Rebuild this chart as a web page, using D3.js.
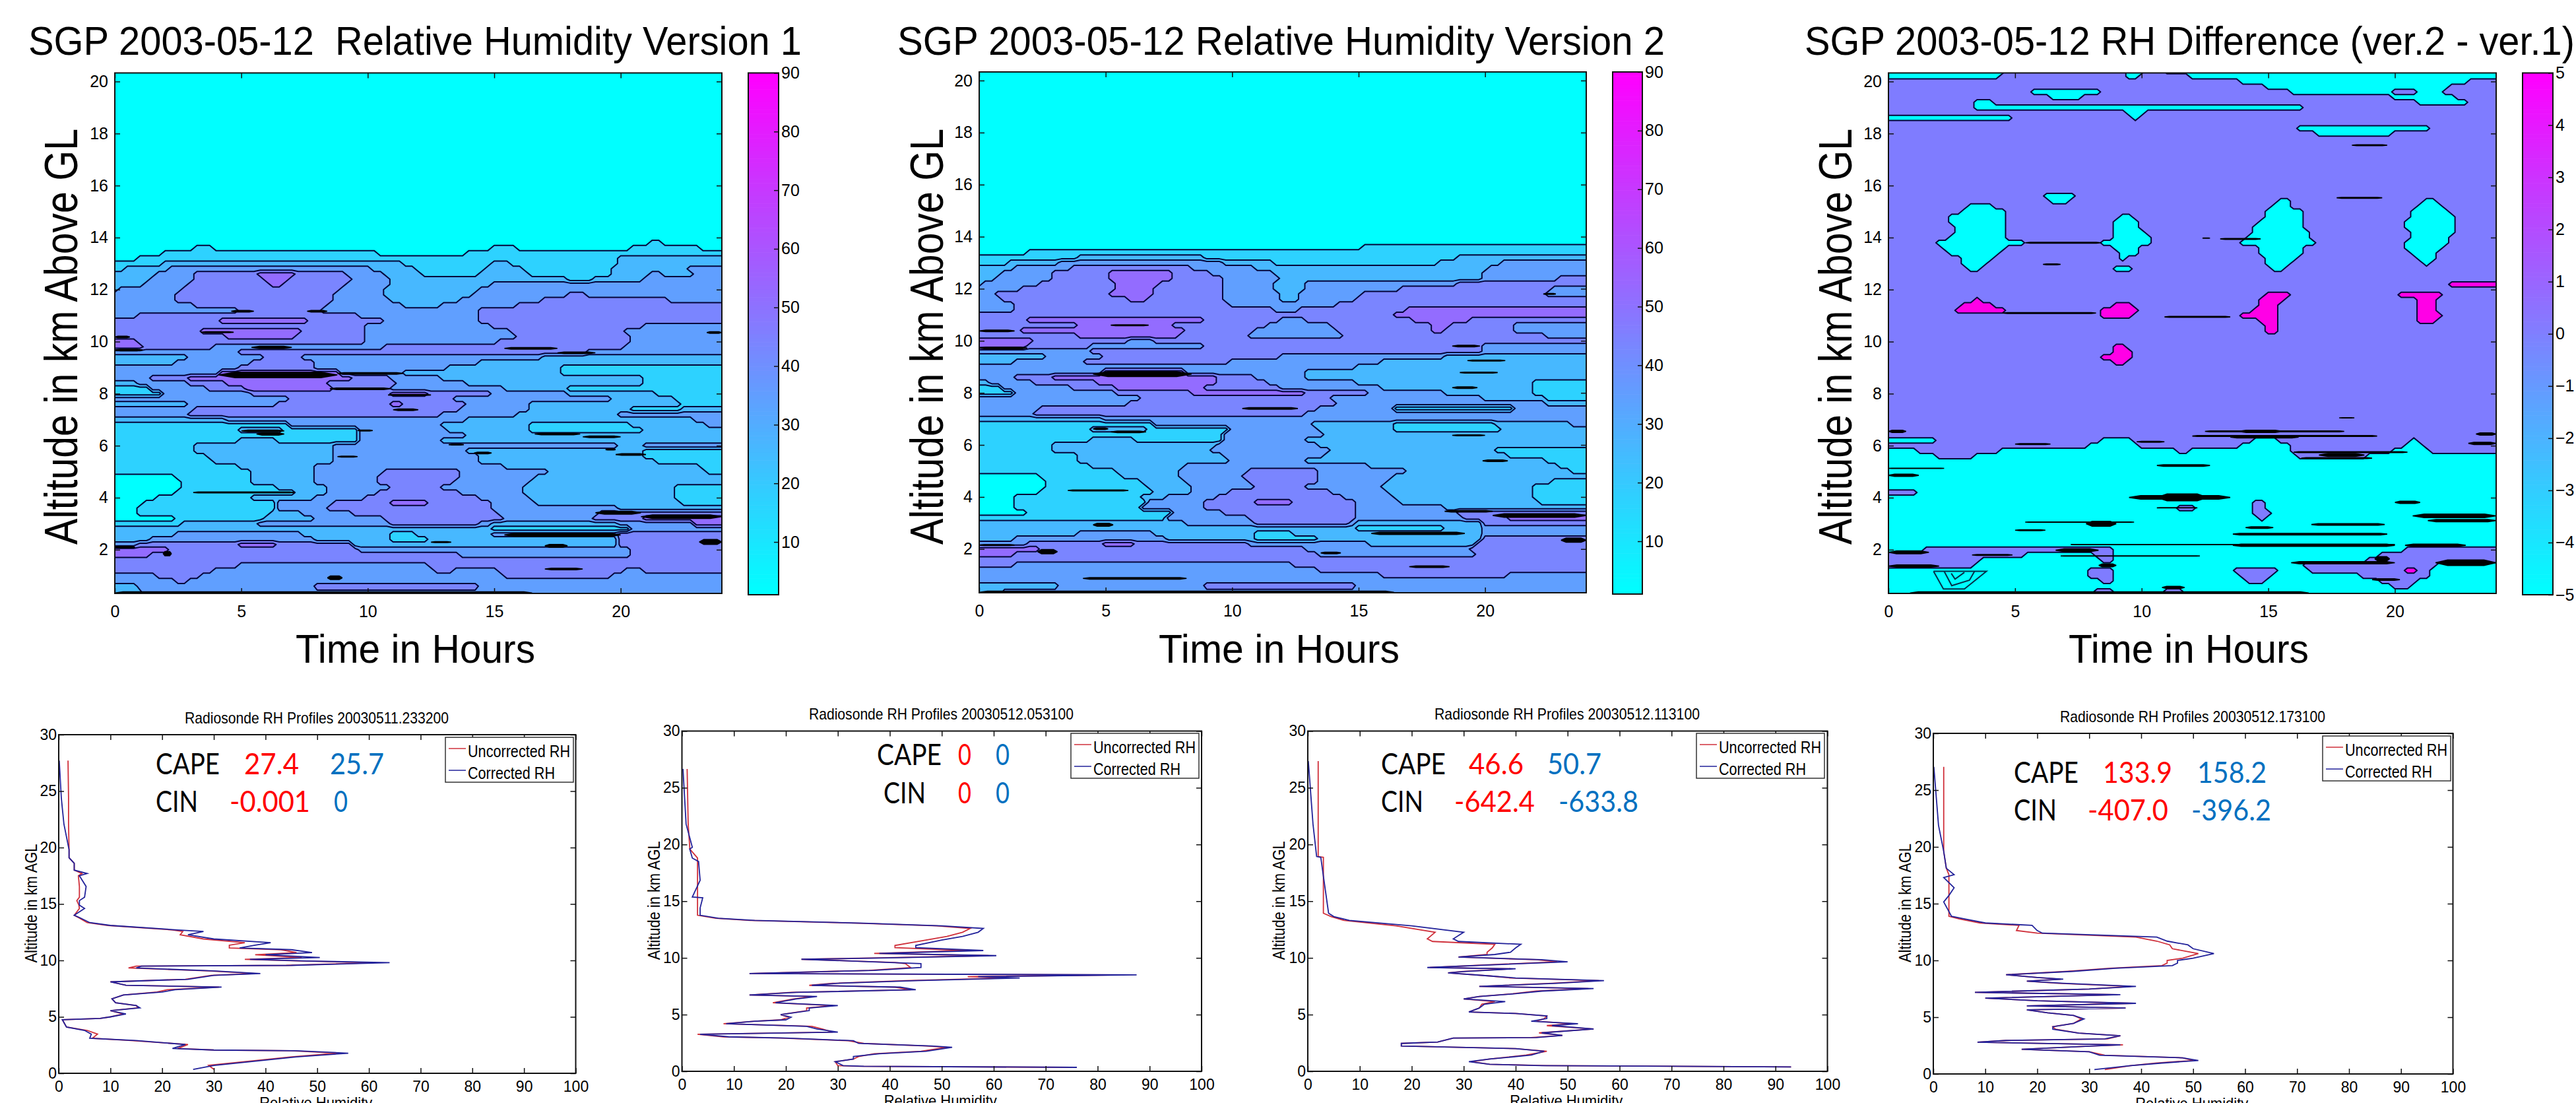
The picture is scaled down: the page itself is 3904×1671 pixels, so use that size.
<!DOCTYPE html>
<html>
<head>
<meta charset="utf-8">
<script src="https://cdn.jsdelivr.net/npm/d3@7"></script>
<style>
  html, body { margin: 0; padding: 0; background: #fff; overflow: hidden; }
  text { font-family: "Liberation Sans", Arial, sans-serif; fill: #000; white-space: pre; }
</style>
</head>
<body>
<div id="chart"></div>
<script>
// Time / altitude ticks of the contour panels
const hourTicks = [0, 5, 10, 15, 20];
const kmTicks = [2, 4, 6, 8, 10, 12, 14, 16, 18, 20];
const rhBarTicks = [10, 20, 30, 40, 50, 60, 70, 80, 90];
const diffBarTicks = [-5, -4, -3, -2, -1, 0, 1, 2, 3, 4, 5];

// Each row: km, then band, until-hour, band, until-hour, ..., last band.
// Bands are the 10 % RH contour intervals.
const rhV1Rows = [
  [20.4,0],[14,0],
  [13.8,0,21.2,1,21.7,0],
  [13.6,0,3.1,1,3.8,0,14.8,1,15.9,0,20.3,1,23.2,0],
  [13.4,0,2,1,10.5,0,13.9,1],
  [13.2,0,1,1,20,2],
  [13,1,2,2,11.3,1,15,2,15.7,1,19.8,2],
  [12.8,1,0.5,2,2.2,3,10.2,2,12,1,14.6,2,16.1,1,19.6,2,22.7,3],
  [12.6,2,1.7,3,3.2,4,5.6,5,7.1,4,9.2,3,10.6,2,12.2,1,14.5,2,16.4,1,19.6,2,21.25,3,21.65,2,22.9,3],
  [12.4,2,1.3,3,3.1,4,5.8,5,6.9,4,9.4,3,10.9,2,18,1,19,2,21,3],
  [12.2,2,1.1,3,3,4,6.1,5,6.6,4,9.1,3,10.8,2,14.8,3],
  [12,2,0.2,3,2.6,4,8.9,3,10.7,2,14.4,3],
  [11.8,3,2.4,4,8.7,3,10.7,2,14.1,3,18,4,18.7,3],
  [11.6,3,2.5,4,8.6,3,11,2,13.7,3,16.8,4,22,3],
  [11.4,3,3.2,4,8.5,3,11.5,2,12.9,3,15.9,4],
  [11.2,3,4.8,4,8.2,3,14.4,4],
  [11,3,1,4,9.6,3,14.4,4],
  [10.8,4,4.1,5,7.7,4,10.6,3,14.4,4],
  [10.6,4,10,3,14.8,4,21,3],
  [10.4,4,3.4,5,7.3,4,9.9,3,15.6,4,20.1,3],
  [10.2,4,4.3,5,7.2,4,9.8,3,16,4,20.5,3],
  [10,5,1,4,9.8,3,15.2,4,20.4,3],
  [9.8,5,1.1,4,3.8,3,10.7,4,20.2,3],
  [9.6,3,5,4,18.6,3],
  [9.4,2,2.9,3,6,4,7.5,3,16.8,2],
  [9.2,2,2.5,3,5.3,4,7.8,3,14.5,2],
  [9,3,5,4,7.9,3,13.2,2,17.6,1],
  [8.8,3,4.1,5,8.9,3,11.5,2,17.6,1],
  [8.6,3,1.5,4,3,5,9.5,4,10.9,3,12.9,2,21,1],
  [8.4,2,1,3,3,4,4.5,5,8.5,4,11.2,3,14,2,21,1],
  [8.2,1,1.4,3,3.6,4,5.2,5,8.6,4,10.8,3,15.4,2,18,1],
  [8,1,1.8,3,5.5,4,11,5,12.5,4,14.8,3,17.8,2,21.5,1],
  [7.8,3,7,4,13.5,3,19.7,2,22.2,1],
  [7.6,2,3,3,6.5,4,11,5,11.4,4,13.8,3,16.3,2,22.4,1],
  [7.4,3,3.1,4,13.6,3,16.5,2,20.5,1,22.4,2],
  [7.2,3,2.8,4,13,3,16,2,20,3],
  [7,2,4.5,3,14,2,23,3],
  [6.8,1,7,3,13,2,16.5,1,20.5,2,23.5,3],
  [6.6,1,5,2,6.7,1,9.6,3,13.2,2,16.5,1,21,2],
  [6.4,1,9.7,3,14,2],
  [6.2,1,4.8,2,6.3,1,9.6,3,13,2],
  [6,1,3.2,2,8.6,3,20,2,21,3],
  [5.8,1,3.1,2,8.7,3,14,2,21,1],
  [5.6,1,3.7,2,8.7,3,14.3,2,21,1],
  [5.4,1,3.8,2,8.7,3,14.3,2,21.3,1],
  [5.2,1,5,2,8,3,15.5,2,23.2,1],
  [5,1,5.5,2,8,3,10.6,4,13.6,3,17.2,2,23.5,1],
  [4.8,0,2.4,1,5.5,2,7.9,3,10.4,4,13.6,3,16.6,2],
  [4.6,0,2.6,1,5.5,2,7.9,3,10.4,4,13.4,3,16.3,2],
  [4.4,0,2.7,1,6.5,2,8.4,3,10.9,4,13,3,16.2,2,22.2,1],
  [4.2,0,2.5,1,7.1,2,8.4,3,10.5,4,13.6,3,16.2,2,22.2,1],
  [4,0,1.6,1,5.5,2,7.8,3,9.8,4,14.3,3,16.4,2,22.2,1],
  [3.8,0,1.1,1,6.4,3,8.6,4,11,5,12.5,4,15,3,16.7,2,22.3,1],
  [3.6,0,0.9,1,6.3,3,8.5,4,15,3,20,2],
  [3.4,0,0.8,1,6.2,2,7.5,3,9.3,4,15.2,3,19.2,4],
  [3.2,0,2.5,1,6,2,7.8,3,10.6,4,15.4,3,19,4,21,5],
  [3,1,2.6,2,5.7,3,11,4,14.5,3,15,2,20,3,23,5],
  [2.8,2,15,1,20.4,3],
  [2.6,2,2.3,3,7.3,2,11,1,12,2,15,3,20,4],
  [2.4,2,1.5,3,8,2,11,1,12.3,2,20,4],
  [2.2,3,1,4,4.8,5,6.3,4,9.5,2,20,4],
  [2,5,2.1,4,9.6,3,20.5,4],
  [1.8,5,1.4,4,13.7,3,20.5,4],
  [1.6,4],
  [1.4,4,5,3,12.3,4],
  [1.2,4,4,3,12.6,4,13.4,3,15.2,4,20.2,3,20.9,4],
  [1,3,1.7,4,3.4,3,15.5,4,19.7,3],
  [0.8,3,2.3,4,2.8,3],
  [0.6,2,1,3,8,4,14.5,3],
  [0.3,2,1.2,3]
];

const rhV2Rows = [
  [20.4,0],[13.8,0],
  [13.6,0,15.2,1],
  [13.4,0,2,1],
  [13.2,1,4,2,8.8,1,18.9,2],
  [13,1,1.1,2,3.1,3,9.6,2,11.6,1,18.2,2,20.6,3],
  [12.8,2,1.3,3,3.6,4,8.4,3,10.8,2,20.2,3],
  [12.6,2,0.8,3,2.9,4,5.2,5,7.6,4,9.2,3,11.6,2,20,3],
  [12.4,2,0.6,3,2.8,4,5.2,5,7.7,4,9.7,3,11.9,2,20,3,23,4],
  [12.2,2,0.1,3,2.5,4,5.3,5,7.2,4,9.7,3,11.6,2,12.9,3,18.8,4],
  [12,3,1.6,4,5.4,5,7,4,9.6,3,11.6,2,12.8,3,16.6,4,22.6,3],
  [11.8,3,0.7,4,5.2,5,7,4,9.6,3,11.8,2,12.6,3,15.2,4,22.4,3],
  [11.6,3,0.8,4,5.8,5,6.6,4,9.6,3,11.9,2,12.6,3,14.8,4],
  [11.4,3,1.3,4,10,3,14.1,4],
  [11.2,3,1.4,4,11.7,3,12.7,4,17,5],
  [11,4,16.3,5],
  [10.8,4,2,5,9,4,11.8,3,13,4,17.1,5,19.3,4],
  [10.6,4,3.8,5,7.7,4,11.3,3,13.8,4,17.8,5,18.7,4,21.2,3],
  [10.4,4,1.6,5,8.2,4,10.8,3,14.2,4,18,5,18.5,4,21.2,3],
  [10.2,4,3.9,5,8,4,10.7,3,14.5,4,22.3,3],
  [10,5,2.1,4,5.8,3,6.9,4],
  [9.8,5,1.8,4,4.3,3,8.8,4,20,3],
  [9.6,3,4.3,4,20,3],
  [9.4,2,2.6,3,5,4,11.9,3,18.3,2],
  [9.2,2,1.3,3,4.2,4,10,3,15.8,2],
  [9,3,15,2],
  [8.8,3,5,5,8.1,3,13,2],
  [8.6,3,1.5,4,3,5,9.5,4,10.9,3,12.9,2],
  [8.4,2,0.5,3,2.2,4,4.6,5,9.4,4,11.5,3,15,2,22,1],
  [8.2,1,0.8,3,3.6,4,5.5,5,8.9,4,12,3,16,2,22,1],
  [8,1,1.4,3,5.5,4,8.5,5,13,4,15.5,3,18.4,2,22,1],
  [7.8,3,6.4,4,13.8,3,19.8,2,22.5,1],
  [7.6,3,6,4,14.2,3,22.5,2],
  [7.4,3,2.4,4,13.3,3,16.4,1,21.2,3],
  [7.2,3,2.2,4,13,3],
  [7,2,5,3],
  [6.8,1,7,3,13.2,2,16.5,1,20.4,2,23.5,3],
  [6.6,1,4.3,2,6.7,1,9.9,3,13.5,2,16.5,1,20.7,2],
  [6.4,1,9.7,3,13.6,2],
  [6.2,1,4.5,2,6.2,1,9.6,3,13,2],
  [6,1,3,2,9.3,3,13.4,2],
  [5.8,1,2.8,2,9.2,3,14,2,20.5,1],
  [5.6,1,4,2,9.6,3,13.6,2,21,1],
  [5.4,1,3.9,2,10,3,13,2,22.5,1],
  [5.2,1,4.5,2,8.2,3,15.5,2,23,1],
  [5,1,5.5,2,8,3,10.6,4,13.4,3,16.8,2,23.5,1],
  [4.8,0,2.5,1,5.7,2,8,3,10.5,4,13.4,3,16.3,2],
  [4.6,0,2.7,1,6.5,2,8.1,3,10.6,4,13.3,3,16.2,2,22.6,1],
  [4.4,0,2.7,1,6.6,2,8.5,3,11,4,12.8,3,16,2,21.8,1],
  [4.2,0,2.5,1,7,2,8.3,3,10,4,14,3,16.1,2,22,1],
  [4,0,1.5,1,6.5,2,7.3,3,9.5,4,14.3,3,16.3,2,22,1],
  [3.8,0,1.3,1,6.6,3,8.9,4,10.9,5,12.4,4,15,3,16.6,2,22.2,1],
  [3.6,0,1.3,1,6.4,3,8.8,4,15,3,18.5,2],
  [3.4,0,2,1,7.6,3,9.7,4,15,3,18.8,4],
  [3.2,1,7.5,3,10.7,4,15,3,19.2,4,21,5],
  [3,2,8.2,3,11,4,14.6,3,15,2,20,4],
  [2.8,2,15,1,18.5,2,20,3],
  [2.6,2,3.9,3,6.8,2,10.8,1,12.5,2,20,3],
  [2.4,2,1.5,3,7.3,2,10.8,1,13.4,2,20,4],
  [2.2,3,2,4,4.8,5,6.2,4,10.6,3,15.5,2,19.7,4],
  [2,5,2.3,4,13,3,19.5,4],
  [1.8,5,1.3,4,13.5,3,19.7,4],
  [1.6,4],
  [1.4,4,1.3,3,12.4,4],
  [1.2,3,13.4,4],
  [1,3,16,4,21,3],
  [0.8,3],
  [0.6,2,3.2,3,9,4,15,3],
  [0.3,2,1,3]
];

const rhDiffRows = [
  [20.4,0,4.6,1,9.4,0,10.2,1,10.8,0],
  [20.2,0,4.4,1,9.5,0,10,1,12,0],
  [20,1,14,0,23,1],
  [19.8,1,14.8,0,22.1,1],
  [19.6,1,5.7,0,8.3,1,15.9,0,20,1,21,0,22,1],
  [19.4,1,6.3,0,7.7,1,20,0,22.4,1],
  [19.2,1,3.5,0,4.2,1,21,0,23,1],
  [19,1,3.4,0,16.5,1],
  [18.8,1,9.5,0,10.2,1],
  [18.6,0,4.8,1,9.6,0,10,1],
  [18.4,1],
  [18.2,1,16.1,0,21.5,1],
  [18,1,17,0,20,1],
  [17.8,1],[15.8,1],
  [15.6,1,6.1,0,7.3,1],
  [15.4,1,6.3,0,7.1,1,15.4,0,15.8,1,21.1,0,21.7,1],
  [15.2,1,3.2,0,4.2,1,15.1,0,16,1,20.8,0,22,1],
  [15,1,2.8,0,4.6,1,15,0,16.3,1,20.7,0,22.1,1],
  [14.8,1,2.5,0,4.7,1,9.2,0,9.7,1,14.9,0,16.4,1,20.6,0,22.3,1],
  [14.6,1,2.3,0,4.7,1,9,0,9.9,1,14.7,0,16.5,1,20.4,0,22.4,1],
  [14.4,1,2.6,0,4.6,1,9,0,9.9,1,14.5,0,16.5,1,20.4,0,22.4,1],
  [14.2,1,2.6,0,4.6,1,9,0,10.1,1,14.5,0,16.6,1,20.6,0,22.3,1],
  [14,1,2.3,0,4.7,1,8.8,0,10.4,1,14.1,0,16.7,1,20.7,0,22.2,1],
  [13.8,1,2,0,5.5,1,8.5,0,10.4,1,14,0,16.8,1,20.4,0,22.1,1],
  [13.6,1,2.2,0,4.7,1,9,0,10,1,14.6,0,16.5,1,20.5,0,22,1],
  [13.4,1,2.5,0,4.4,1,9.1,0,9.8,1,14.7,0,16.3,1,20.7,0,21.7,1],
  [13.2,1,2.8,0,4.1,1,9.2,0,9.5,1,14.8,0,16.1,1,21,0,21.6,1],
  [13,1,3,0,3.9,1,15,0,15.9,1,21.2,0,21.5,1],
  [12.8,1,3.1,0,3.7,1,9,0,9.6,1,15.2,0,15.7,1],
  [12.6,1],[12.4,1],
  [12.2,1,22.2,2],
  [12,1],
  [11.8,1,14.8,2,15.9,1,20.1,2,22,1],
  [11.6,1,3.4,2,3.7,1,14.7,2,15.6,1,20.9,2,21.6,1],
  [11.4,1,2.9,2,4.1,1,8.8,2,9.6,1,14.7,2,15.5,1,21,2,21.6,1],
  [11.2,1,2.7,2,4.6,1,8.3,2,9.8,1,14.3,2,15.5,1,21,2,21.7,1],
  [11,1,8.5,2,9.7,1,14,2,15.5,1,20.9,2,21.8,1],
  [10.8,1,14.6,2,15.4,1,20.9,2,21.7,1],
  [10.6,1,14.9,2,15.3,1],
  [10.4,1,15,2,15.3,1],
  [10.2,1],[10,1],
  [9.8,1,8.9,2,9.5,1],
  [9.6,1,8.8,2,9.6,1],
  [9.4,1,8.5,2,9.7,1],
  [9.2,1,8.9,2,9.4,1],
  [9,1],[6.4,1],
  [6.2,0,1.8,1,8.3,0,9.6,1,14.5,0,15.3,1,20.6,0,21,1],
  [6,1,8,0,9.9,1,13.8,0,15.9,1,20.4,0,21.2,1],
  [5.8,0,1.2,1,4.5,0,11.4,1,11.9,0,16,1,20,0,21.4,1],
  [5.6,0,1.8,1,3.3,0,16.2,1,19,0],
  [5.4,0],[4.4,0],
  [4.2,1,1.1,0],
  [4,0],
  [3.8,0,14.5,1,15,0],
  [3.6,0,11.3,1,12.1,0,14.3,1,15,0],
  [3.4,0,14.3,1,15.1,0],
  [3.2,0,14.6,1,14.9,0],
  [3,0],[2.2,0],
  [2,0,1.5,1,8.9,0,20.3,1],
  [1.8,1,5.5,0,8.2,1,8.9,0,19.3,1],
  [1.6,1,3.6,0,8.3,1,8.9,0,18.8,1],
  [1.4,1,3.3,0,16.5,1,21.7,0],
  [1.2,0,7.8,1,8.9,0,13.7,1,15.3,0,16.6,1,20.3,2,20.8,1,21.5,0],
  [1,0,7.8,1,9,0,13.8,1,15.1,0,18.7,1,21.3,0],
  [0.8,0,8.4,1,9,0,14.2,1,14.8,0,19.3,1,21,0],
  [0.6,0,20,1,20.7,0],
  [0.4,0,8.1,1,8.9,0,11,1,11.7,0],
  [0.3,0]
];

// Tightly packed contours, which read as black bars: from hour, to hour, km, weight
const rhV1Bars = [
  [4.1,8.8,8.72,10],[8.8,11.4,8.78,4],[8.5,10.9,8.19,4],[5.4,7,9.78,5],[10.8,12.5,7.95,3],[11,12,7.38,4],
  [0,0.6,10.18,4],[0,1.1,9.68,4],[3.4,4.7,10.36,3],[4.6,5.5,11.17,4],[7.6,8.4,11.17,4],[15.4,17.5,9.74,4],
  [17.5,19,9.57,4],[23.4,24,10.35,4],[5,6.7,6.57,4],[5.6,6.7,6.45,5],[9.6,10.2,6.58,3],[13.2,13.8,6.04,3],
  [16.6,18.4,6.45,4],[18.5,20,6.34,4],[19.4,19.8,5.85,3],[19.8,21,5.66,4],[14.2,14.9,5.72,4],[8.8,9.6,5.58,3],
  [3.1,7.1,4.2,3],[19,20.8,3.42,6],[20.8,24,3.27,7],[15.4,20,2.57,6],[17,17.9,2.15,6],[23.1,24,2.3,9],
  [12.5,13.3,2.29,3],[0,0.8,2.1,4],[1.9,2.25,1.85,8],[17,18.5,1.26,4],[8.4,9,0.92,7],[0,16.5,0.34,5]
];
const rhV2Bars = [
  [0,1.4,10.38,4],[0,1.9,9.72,4],[4.5,8.4,8.72,9],[5.2,6.7,10.6,3],[18.7,19.8,9.8,4],[19.3,20.8,9.24,3],
  [19,20.5,8.78,3],[18.7,19.7,8.2,4],[10.4,12.6,7.4,4],[22.3,22.8,11.8,3],[4.5,5.1,6.62,4],[5.2,6.6,6.5,4],
  [18.7,20,6.37,3],[19.9,20.9,5.39,4],[3.5,5.9,4.25,3],[2.3,3.1,1.9,8],[0,1.4,2.15,3],[18.4,20.3,3.45,4],
  [20.3,24,3.29,7],[15.5,19.2,2.6,5],[23,24,2.34,8],[4.5,5.3,2.93,6],[4.1,8.2,0.87,4],[17,18.6,1.32,4],
  [13.5,14.3,1.85,4],[0,16.4,0.34,5]
];
const rhDiffBars = [
  [18.3,19.7,17.55,3],[17.7,19.5,15.53,3],[6.1,6.8,12.97,3],[13.1,14.7,13.95,3],[12.4,12.7,13.98,2],[5.4,8.4,13.8,3],
  [4.5,8.2,11.1,3],[10.9,13.5,10.95,3],[17.8,18.4,7.07,2],[0,0.7,6.55,5],[12.5,18,6.55,3],[13.8,15.6,6.55,5],
  [12,19.3,6.37,3],[13.5,16.2,6.33,4],[5,6.4,6.06,3],[9.8,10.9,6.15,3],[23.2,24,6.45,5],[22.9,24,6.09,5],
  [16,20.5,5.75,3],[17,18.8,5.64,6],[16.3,19.1,5.52,3],[10.6,12.7,5.24,4],[0,2.2,5.13,2],[0,1.2,4.86,5],
  [9.5,13.5,4.01,7],[10.6,12.6,4.01,12],[10.6,12.2,3.61,2],[20,21,3.82,5],[5.4,9.7,3.06,2],[7.8,9,3,9],
  [5,6.2,2.75,3],[20.7,24,3.3,7],[21.3,24,3.12,5],[16.7,19.6,2.97,4],[14.1,15.2,2.85,4],[13.6,19.7,2.6,4],
  [7.2,20,2.2,2],[13.6,20,2.17,5],[20.4,22.8,2.17,5],[6.6,8.3,1.98,6],[0,1.6,1.9,6],[3.3,4.9,1.8,3],
  [6.8,12.3,1.76,2],[21.6,24,1.5,10],[15.9,20,1.5,5],[8.3,9,1.4,6],[0,2,1.37,5],[19.2,19.8,1.65,8],
  [0.85,16.6,0.34,5],[10.8,11.7,0.55,5],[19.1,20.2,0.85,4]
];
// Three nested U contours near the ground in the difference panel: hour, km
const diffRings = [
  [[1.78,1.17],[2.17,0.49],[3,0.49],[3.87,1.17],[1.78,1.17]],
  [[2.2,1.17],[2.5,0.62],[3.2,0.83],[3.4,1.17]],
  [[2.48,1.09],[2.63,0.87],[3,1.13]]
];

// Radiosonde soundings: altitude, uncorrected RH, corrected RH
const rhTicks = [0, 10, 20, 30, 40, 50, 60, 70, 80, 90, 100];
const altTicks = [0, 5, 10, 15, 20, 25, 30];

const kmA = [.35,.7,1.27,1.46,1.78,2,2.06,2.2,2.55,2.9,3.1,3.47,3.8,4.1,4.75,4.86,5,5.25,5.55,5.8,6,6.25,6.6,6.94,7.2,7.4,7.64,7.8,8.1,8.33,8.68,8.84,9.07,9.33,9.5,9.56,9.8,9.95,10.1,10.25,10.5,10.7,10.95,11.1,11.35,11.57,11.9,12.27,12.57,12.7,13.1,13.35,13.8,14,14.6,14.9,15.3,15.6,16.55,17.5,17.7,18,18.6,19.1,19.8,22.1,24.4,27.7];
const rawA = [30,29,41,45,54,45,30,23,25,14,6.5,7.5,5.5,1.5,.7,8,10,12.5,10,15.3,15,11,10.3,12.5,19,21,31,13,10,24.5,29.5,38,29,13.5,15,44,61,47,36,47,38,46,43,33,33,36,28,23.5,24,22,9.5,5.5,3.8,3,4,3.9,3.5,4,4,3.8,4.5,3,3,2,2,1.9,1.9,1.8];
const corrA = [26,30,42,46,56,46,30,22,24.5,15,6,6.3,5,1.5,.7,8,10,13,10,15.7,15,11,10.3,12.5,20,22.5,31.5,13,10,25,30,39,30,15,16,45,64,48,37,50.5,40,49,45,35,38,41,30,25,28,23,10,6,4,3,5,4,4,5,5.3,4,5.5,3,3,2,2,1,.5,.1];

const kmB = [.35,.44,.5,.85,1.08,1.3,1.55,1.77,2.12,2.23,2.46,2.7,2.93,3.04,3.27,3.45,3.73,3.96,4.2,4.42,4.54,4.77,5,5.35,5.58,5.8,6.04,6.38,6.6,6.73,6.96,7.19,7.42,7.58,7.76,8,8.23,8.34,8.5,8.62,8.9,9.15,9.5,9.6,9.88,10,10.2,10.4,10.65,10.9,11.1,11.57,11.9,12.26,12.6,12.83,13.06,13.3,13.5,13.76,14.4,15.3,15.37,16.84,18.5,18.8,19.6,19.75,21.8,26.66];
const rawB = [75,34,30,29.5,33,34,37,46,51,47,35,32,19,8,3,29,27,25,8,14,19,20.5,19,24,24,29,17.5,21.5,25,13,21,44,41,24.5,29,43,63,55,85,13,36,44,43,41,23,38,59,37,55,41,41,47,51,54,55.5,49,34,13,6.5,3,3,3,3,3,3,3,1.5,1.5,1.2,1];
const corrB = [76,35,31,29.5,33,33,38,47,52,48,34,33,20,9,3.5,30,26,24,8.5,14,20,21,19,24.5,24.5,30,18,22,26,13,22,45,42,25,30,45,65,57,87.5,13,37,46,46,40,23,40,60.5,38,58,45,45,50,54,57,58,50,35,14,7,3.5,3.5,4,2,3.5,3.2,2,1.5,2,.8,.2];

const kmC = [.39,.5,.62,.85,1.08,1.43,1.77,2,2.23,2.46,2.58,2.93,2.97,3.16,3.39,3.73,4.03,4.2,4.42,4.65,4.88,5.1,5.23,5.58,5.92,6.15,6.38,6.6,6.84,7.07,7.3,7.49,7.76,8,8.23,8.41,8.68,8.8,9.04,9.15,9.38,9.65,9.84,10.07,10.3,10.5,10.88,11.2,11.45,11.68,12.26,12.83,13.3,13.64,13.94,17.2,18.87,18.94,21.8,27.35];
const rawC = [93,46,35,31.5,35,42,46,40,18,18,25,28,43,49,44.5,55,46,51,44,45.5,46,40,31,33,33.5,36,30,33,39.5,44,54,33,47,56,39,35,27,29.5,39,23.5,34,48,44,29,34.5,34.5,35.5,36,24,23,24.5,17,7,4.5,3,3,3,2,2,2];
const corrC = [93,45,35,31,35,43,45.5,40,18,18,25,28,44,49,45,55,47,52,43,46,46,40,31,33,34,38,30,33,40,45,55,33,48,57,40,35,27,30,40,23,35,50,45,29,36,39,40,41,29,28,30,20,8,5,4,3,2.5,1.7,1,.1];

const kmD = [.39,.73,.96,1.19,1.42,1.65,1.95,2.17,2.45,2.56,2.8,2.95,3.09,3.36,3.6,3.94,4.16,4.46,4.85,5.15,5.38,5.65,5.81,6,6.22,6.45,6.68,6.98,7.19,7.48,7.71,7.99,8.17,8.35,8.5,8.74,9.04,9.31,9.54,9.77,10,10.2,10.6,11.03,11.37,11.7,12.06,12.4,12.63,13.09,13.3,13.66,13.89,15.15,15.72,16.4,17.3,17.55,18.12,19.6,21.9,27.05];
const rawD = [33,38,43,50,48,33,30,17,30,36.5,8.5,14,33.5,36,28,23.5,23,27,28.5,27,22,18,37,18,38.5,20,10,35.5,8,30,38,24,18,24.5,20,14,26,34,44,45,45,48,51,46,45.5,43,39,20,16,16.5,9,5,3,3,3,3,3,3,2.5,2,2,2];
const corrD = [31,38,44,51,48,32,30,17,30,36,8.5,14,33,36,28,23,23,27,29,27,22,18,37,18,39,20,10,36,8,30,39,25,18,25,20,14,27,35,46,47,47,50,54,50,49,45,43,21,20,19,10,6,3.5,2,3,4,2,4,2.5,2,1,.1];

const w = 3904;
const h = 1671;

const svg = d3.select('#chart').append('svg')
  .attr('width', w)
  .attr('height', h)
  .attr('viewBox', `0 0 ${w} ${h}`)
  .style('display', 'block');

// Text squeezed to the width it has in the picture, y is the centre of the caps
const label = (parent, str, x, y, size, len, opts = {}) => {
  const t = parent.append('text')
    .attr('transform', `translate(${x},${y + (opts.rotate ? 0 : size * 0.36)})${opts.rotate ? ' rotate(-90)' : ''}`)
    .attr('text-anchor', opts.anchor || 'middle')
    .attr('font-size', size)
    .text(str);
  if (opts.rotate) t.attr('dy', size * 0.36);
  if (len) t.attr('textLength', len).attr('lengthAdjust', 'spacingAndGlyphs');
  return t;
};

const cool = d3.interpolateRgb('#00ffff', '#ff00ff');
const rhBand = k => k === 0 ? '#00ffff' : cool((k * 9 + 7) / 90);
const diffBand = k => ['#00ffff', '#7f7cff', '#ff00e6'][k];

// Both axes are set with their ticks inward on all four sides, as MATLAB draws them
const frame = (g, x, y, xTicks, yTicks, fontSize, xGap, yGap) => {
  const [x0, x1] = x.range();
  const [y0, y1] = y.range();
  const axes = [
    [d3.axisBottom(x).tickValues(xTicks).tickSize(-8).tickPadding(xGap), `translate(0,${y0})`],
    [d3.axisTop(x).tickValues(xTicks).tickSize(-8).tickFormat(''), `translate(0,${y1})`],
    [d3.axisLeft(y).tickValues(yTicks).tickSize(-8).tickPadding(yGap), `translate(${x0},0)`],
    [d3.axisRight(y).tickValues(yTicks).tickSize(-8).tickFormat(''), `translate(${x1},0)`]
  ];
  axes.forEach(([axis, tr]) => {
    const a = g.append('g').attr('transform', tr).call(axis);
    a.select('.domain').remove();
    a.selectAll('.tick line').attr('stroke', '#111').attr('stroke-width', 1.5);
    a.selectAll('.tick text').attr('font-size', fontSize).style('font-family', '"Liberation Sans", Arial, sans-serif').attr('fill', '#000');
  });
  g.append('rect')
    .attr('x', x0).attr('y', y1)
    .attr('width', x1 - x0).attr('height', y0 - y1)
    .attr('fill', 'none').attr('stroke', '#111').attr('stroke-width', 2);
};

const hourCols = d3.range(0, 24.001, 0.25);

// Expand band/until-hour rows into a grid and let d3.contours trace the regions
const contourPanel = (p, idx) => {
  const g = svg.append('g');
  const x = d3.scaleLinear().domain([0, 24]).range([p.left, p.right]);
  const y = d3.scaleLinear().domain([0.32, 20.33]).range([p.bottom, p.top]);
  const kms = p.rows.map(r => r[0]);
  const cells = [];
  p.rows.forEach(r => {
    hourCols.forEach(t => {
      let i = 1;
      while (i + 1 < r.length && t >= r[i + 1]) i += 2;
      cells.push(r[i]);
    });
  });
  const nBands = d3.max(cells) + 1;
  const contours = d3.contours()
    .size([hourCols.length, kms.length])
    .thresholds(d3.range(1, nBands).map(k => k - 0.5))(cells);

  const colToHour = d3.scaleLinear().domain(d3.range(hourCols.length)).range(hourCols).clamp(true);
  const rowToKm = d3.scaleLinear().domain(d3.range(kms.length)).range(kms).clamp(true);
  const path = d3.geoPath(d3.geoTransform({
    point(px, py) {
      this.stream.point(x(colToHour(px - 0.5)), y(rowToKm(py - 0.5)));
    }
  }));

  const clipId = `plot-clip-${idx}`;
  g.append('clipPath').attr('id', clipId).append('rect')
    .attr('x', p.left).attr('y', p.top)
    .attr('width', p.right - p.left).attr('height', p.bottom - p.top);
  const plot = g.append('g').attr('clip-path', `url(#${clipId})`);

  plot.append('rect')
    .attr('x', p.left).attr('y', p.top)
    .attr('width', p.right - p.left).attr('height', p.bottom - p.top)
    .attr('fill', p.band(0));

  plot.selectAll('path.band')
    .data(contours)
    .join('path')
    .attr('class', 'band')
    .attr('d', path)
    .attr('fill', (d, i) => p.band(i + 1))
    .attr('stroke', '#05053a')
    .attr('stroke-width', 2)
    .attr('stroke-linejoin', 'round');

  // Bars taper to nothing at their ends, like the lens of packed contours they stand for
  const lens = d3.area()
    .x(d => d.px)
    .y0(d => d.py - d.half)
    .y1(d => d.py + d.half);
  plot.selectAll('path.bar')
    .data(p.bars)
    .join('path')
    .attr('class', 'bar')
    .attr('d', d => {
      const [a, b, km, weight] = d;
      const xa = x(a);
      const xb = x(b);
      const run = Math.min((xb - xa) * 0.2, weight * 2.5);
      return lens([
        { px: xa, py: y(km), half: 0.8 },
        { px: xa + run, py: y(km), half: weight / 2 },
        { px: xb - run, py: y(km), half: weight / 2 },
        { px: xb, py: y(km), half: 0.8 }
      ]);
    })
    .attr('fill', '#000');

  if (p.rings) {
    const ringLine = d3.line().x(d => x(d[0])).y(d => y(d[1]));
    plot.selectAll('path.ring')
      .data(p.rings)
      .join('path')
      .attr('class', 'ring')
      .attr('d', ringLine)
      .attr('fill', 'none')
      .attr('stroke', '#05304a')
      .attr('stroke-width', 2);
  }

  frame(g, x, y, hourTicks, kmTicks, 25, 18, 10);

  label(g, p.title, (p.titleX[0] + p.titleX[1]) / 2, 61, 62, p.titleX[1] - p.titleX[0]);
  label(g, 'Time in Hours', (p.timeX[0] + p.timeX[1]) / 2, 982, 62, p.timeX[1] - p.timeX[0]);
  label(g, 'Altitude in km Above GL', p.altX, 510, 70, 630, { rotate: true });

  // Colour bar
  const barScale = d3.scaleLinear().domain(p.barDomain).range([p.bottom + 2, p.top]);
  const steps = d3.range(0, 128);
  const stepHeight = (barScale.range()[0] - barScale.range()[1]) / steps.length;
  g.selectAll('rect.step')
    .data(steps)
    .join('rect')
    .attr('class', 'step')
    .attr('x', p.barX[0])
    .attr('width', p.barX[1] - p.barX[0])
    .attr('y', d => barScale.range()[0] - (d + 1) * stepHeight)
    .attr('height', stepHeight + 0.6)
    .attr('fill', d => cool(d / 127));
  const barAxis = g.append('g')
    .attr('transform', `translate(${p.barX[1]},0)`)
    .call(d3.axisRight(barScale).tickValues(p.barTicks).tickSize(-7).tickPadding(4));
  barAxis.select('.domain').remove();
  barAxis.selectAll('.tick line').attr('stroke', '#111').attr('stroke-width', 1.5);
  barAxis.selectAll('.tick text').attr('font-size', 25).style('font-family', '"Liberation Sans", Arial, sans-serif').attr('fill', '#000');
  g.append('rect')
    .attr('x', p.barX[0]).attr('y', p.top)
    .attr('width', p.barX[1] - p.barX[0]).attr('height', p.bottom + 2 - p.top)
    .attr('fill', 'none').attr('stroke', '#111').attr('stroke-width', 2);
};

[
  { rows: rhV1Rows, bars: rhV1Bars, band: rhBand, title: 'SGP 2003-05-12  Relative Humidity Version 1',
    left: 174, right: 1094, top: 110.5, bottom: 899, barX: [1134, 1180], barDomain: [1, 90], barTicks: rhBarTicks,
    titleX: [43, 1215], timeX: [448, 811], altX: 92 },
  { rows: rhV2Rows, bars: rhV2Bars, band: rhBand, title: 'SGP 2003-05-12 Relative Humidity Version 2',
    left: 1484, right: 2404, top: 109, bottom: 898, barX: [2444, 2489], barDomain: [1, 90], barTicks: rhBarTicks,
    titleX: [1360, 2523], timeX: [1756, 2121], altX: 1404 },
  { rows: rhDiffRows, bars: rhDiffBars, rings: diffRings, band: diffBand, title: 'SGP 2003-05-12 RH Difference (ver.2 - ver.1)',
    left: 2862, right: 3783, top: 110.5, bottom: 899, barX: [3823, 3869], barDomain: [-5, 5], barTicks: diffBarTicks,
    titleX: [2735, 3902], timeX: [3135, 3499], altX: 2781 }
].forEach(contourPanel);

const soundingPanel = p => {
  const g = svg.append('g');
  const x = d3.scaleLinear().domain([0, 100]).range([p.left, p.right]);
  const y = d3.scaleLinear().domain([0, 30]).range([p.bottom, p.top]);

  const line = d3.line().x(d => x(d[0])).y(d => y(d[1]));
  g.append('path')
    .datum(d3.zip(p.raw, p.km))
    .attr('d', line)
    .attr('fill', 'none')
    .attr('stroke', '#cf2f3a')
    .attr('stroke-width', 1.8);
  g.append('path')
    .datum(d3.zip(p.corr, p.km))
    .attr('d', line)
    .attr('fill', 'none')
    .attr('stroke', '#22229a')
    .attr('stroke-width', 1.8);

  frame(g, x, y, rhTicks, altTicks, 23, 12, 3);

  label(g, p.title, (p.titleX[0] + p.titleX[1]) / 2, p.titleY, 24, p.titleX[1] - p.titleX[0]);
  label(g, 'Altitude in km AGL', p.altX, (p.top + p.bottom) / 2 - 1, 26, 180, { rotate: true });
  g.append('text')
    .attr('x', (p.left + p.right) / 2 - 2)
    .attr('y', p.bottom + 53)
    .attr('text-anchor', 'middle')
    .attr('font-size', 24)
    .attr('textLength', 171)
    .attr('lengthAdjust', 'spacingAndGlyphs')
    .text('Relative Humidity');

  // Legend
  const leg = g.append('g').attr('transform', `translate(${p.legend[0]},${p.legend[1]})`);
  leg.append('rect').attr('width', 194).attr('height', 68)
    .attr('fill', '#fff').attr('stroke', '#333').attr('stroke-width', 1.5);
  [['Uncorrected RH', '#cf2f3a', 155], ['Corrected RH', '#22229a', 132]].forEach(([name, color, len], i) => {
    const ly = 17 + i * 33;
    leg.append('line').attr('x1', 5).attr('x2', 31).attr('y1', ly).attr('y2', ly)
      .attr('stroke', color).attr('stroke-width', 1.5);
    label(leg, name, 34, ly + 4, 25, len, { anchor: 'start' });
  });

  // CAPE and CIN, uncorrected then corrected
  p.notes.forEach(([str, x0, x1, yy, color]) => {
    g.append('text')
      .attr('x', x0)
      .attr('y', yy)
      .attr('font-size', 45)
      .attr('textLength', x1 - x0)
      .attr('lengthAdjust', 'spacingAndGlyphs')
      .style('font-family', 'Lato, "Noto Sans", sans-serif')
      .style('fill', color)
      .text(str);
  });
};

const red = '#ff0000';
const blue = '#0070c0';
[
  { km: kmA, raw: rawA, corr: corrA, title: 'Radiosonde RH Profiles 20030511.233200', left: 89, right: 872.5, top: 1113, bottom: 1626,
    titleX: [280, 680], titleY: 1087, altX: 47, legend: [675, 1117],
    notes: [['CAPE',236,333,1173,'#000'],['27.4',370,453,1173,red],['25.7',500,582,1173,blue],['CIN',236,300,1230,'#000'],['-0.001',348,470,1230,red],['0',506,527,1230,blue]] },
  { km: kmB, raw: rawB, corr: corrB, title: 'Radiosonde RH Profiles 20030512.053100', left: 1033.5, right: 1821, top: 1107.5, bottom: 1623,
    titleX: [1226, 1627], titleY: 1081, altX: 991, legend: [1623, 1111],
    notes: [['CAPE',1329,1427,1159,'#000'],['0',1452,1472,1159,red],['0',1509,1530,1159,blue],['CIN',1339,1403,1217,'#000'],['0',1452,1472,1217,red],['0',1509,1530,1217,blue]] },
  { km: kmC, raw: rawC, corr: corrC, title: 'Radiosonde RH Profiles 20030512.113100', left: 1982, right: 2769.5, top: 1107.5, bottom: 1623,
    titleX: [2174, 2576], titleY: 1081, altX: 1938, legend: [2571, 1111],
    notes: [['CAPE',2093,2191,1173,'#000'],['46.6',2226,2309,1173,red],['50.7',2345,2427,1173,blue],['CIN',2093,2157,1230,'#000'],['-642.4',2204,2326,1230,red],['-633.8',2362,2483,1230,blue]] },
  { km: kmD, raw: rawD, corr: corrD, title: 'Radiosonde RH Profiles 20030512.173100', left: 2930, right: 3717.5, top: 1111, bottom: 1627,
    titleX: [3122, 3524], titleY: 1085, altX: 2887, legend: [3520, 1115],
    notes: [['CAPE',3052,3150,1185.5,'#000'],['133.9',3187,3292,1185.5,red],['158.2',3330,3435,1185.5,blue],['CIN',3052,3117,1243,'#000'],['-407.0',3164,3286,1243,red],['-396.2',3321,3442,1243,blue]] }
].forEach(soundingPanel);
</script>
</body>
</html>
